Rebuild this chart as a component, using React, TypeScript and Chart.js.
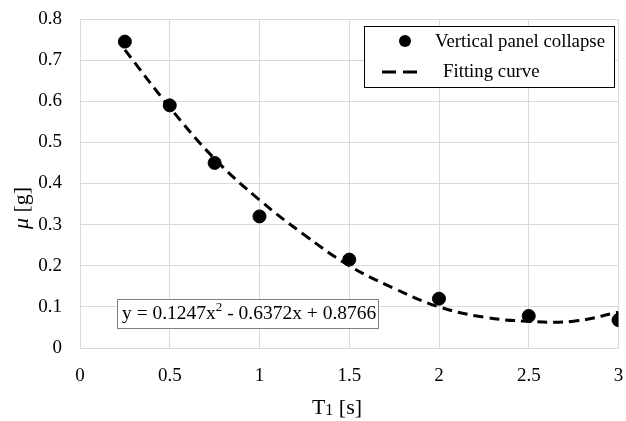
import React, { useEffect, useRef } from "react";
import { Chart, registerables } from "chart.js";

Chart.register(...registerables);

const pointX = [0.25, 0.5, 0.75, 1.0, 1.5, 2.0, 2.5, 3.0];
const pointY = [0.745, 0.59, 0.45, 0.32, 0.215, 0.12, 0.078, 0.068];

const curveX = [0.25, 0.5, 0.75, 1.0, 1.25, 1.5, 1.75, 2.0, 2.25, 2.5, 2.75, 3.0];
const curveY = [0.725, 0.585, 0.46, 0.36, 0.275, 0.2, 0.145, 0.1, 0.075, 0.065, 0.065, 0.087];

const xTicks = ["0", "0.5", "1", "1.5", "2", "2.5", "3"];
const yTicks = ["0", "0.1", "0.2", "0.3", "0.4", "0.5", "0.6", "0.7", "0.8"];

const seriesNames = ["Vertical panel collapse", "Fitting curve"];
const equation = ["y = 0.1247x", "2", " - 0.6372x + 0.8766"];

const FONT = "'Liberation Serif', 'Times New Roman', serif";

const overlay = {
  id: "overlay",
  afterDraw(chart: any) {
    const ctx = chart.ctx;
    ctx.save();
    // Y title
    ctx.save();
    ctx.translate(28, 208);
    ctx.rotate(-Math.PI / 2);
    ctx.fillStyle = "#000";
    ctx.textBaseline = "alphabetic";
    ctx.font = `italic 22px ${FONT}`;
    const mu = "μ";
    const muW = ctx.measureText(mu).width;
    ctx.font = `22px ${FONT}`;
    const rest = " [g]";
    const restW = ctx.measureText(rest).width;
    const total = muW + restW;
    ctx.font = `italic 22px ${FONT}`;
    ctx.fillText(mu, -total / 2, 0);
    ctx.font = `22px ${FONT}`;
    ctx.fillText(rest, -total / 2 + muW, 0);
    ctx.restore();

    // X title
    ctx.fillStyle = "#000";
    ctx.textBaseline = "alphabetic";
    ctx.font = `22px ${FONT}`;
    const tW = ctx.measureText("T").width;
    ctx.font = `16px ${FONT}`;
    const sW = ctx.measureText("1").width;
    ctx.font = `22px ${FONT}`;
    const rW = ctx.measureText(" [s]").width;
    const tot = tW + sW + rW;
    const x0 = 337 - tot / 2;
    const by = 414;
    ctx.fillText("T", x0, by);
    ctx.font = `16px ${FONT}`;
    ctx.fillText("1", x0 + tW, by + 1);
    ctx.font = `22px ${FONT}`;
    ctx.fillText(" [s]", x0 + tW + sW, by);

    // Equation box
    ctx.fillStyle = "#fff";
    ctx.fillRect(117, 299, 261, 29);
    ctx.strokeStyle = "#7f7f7f";
    ctx.lineWidth = 1;
    ctx.strokeRect(117.5, 299.5, 261, 29);
    ctx.fillStyle = "#000";
    ctx.font = `19.5px ${FONT}`;
    let ex = 122;
    const ey = 319;
    ctx.fillText(equation[0], ex, ey);
    ex += ctx.measureText(equation[0]).width;
    ctx.font = `13px ${FONT}`;
    ctx.fillText(equation[1], ex, ey - 8);
    ex += ctx.measureText(equation[1]).width;
    ctx.font = `19.5px ${FONT}`;
    ctx.fillText(equation[2], ex, ey);

    // Legend
    ctx.fillStyle = "#fff";
    ctx.fillRect(364, 26, 250, 61);
    ctx.strokeStyle = "#000";
    ctx.strokeRect(364.5, 26.5, 250, 61);
    ctx.fillStyle = "#000";
    ctx.beginPath();
    ctx.arc(405, 41, 6, 0, Math.PI * 2);
    ctx.fill();
    ctx.font = `18.8px ${FONT}`;
    ctx.textBaseline = "alphabetic";
    ctx.fillText(seriesNames[0], 435, 47);
    ctx.strokeStyle = "#000";
    ctx.lineWidth = 3;
    ctx.setLineDash([14, 7]);
    ctx.beginPath();
    ctx.moveTo(382, 72);
    ctx.lineTo(417, 72);
    ctx.stroke();
    ctx.setLineDash([]);
    ctx.fillText(seriesNames[1], 443, 77);
    ctx.restore();
  },
};

export default function App() {
  const ref = useRef<HTMLCanvasElement>(null);
  useEffect(() => {
    document.body.style.margin = "0";
    const canvas = ref.current!;
    const chart = new Chart(canvas, {
      type: "scatter",
      data: {
        datasets: [
          {
            label: seriesNames[1],
            data: curveX.map((x, i) => ({ x, y: curveY[i] })),
            showLine: true,
            borderColor: "#000",
            borderWidth: 3,
            borderDash: [10, 6],
            pointRadius: 0,
            tension: 0.4,
            fill: false,
          },
          {
            label: seriesNames[0],
            data: pointX.map((x, i) => ({ x, y: pointY[i] })),
            backgroundColor: "#000",
            borderColor: "#000",
            pointRadius: 6.5,
            pointHoverRadius: 6.5,
          },
        ],
      },
      options: {
        responsive: false,
        animation: false,
        devicePixelRatio: 1,
        layout: { padding: { top: 19, right: 6, left: 0, bottom: 0 } },
        plugins: { legend: { display: false }, tooltip: { enabled: false } },
        scales: {
          x: {
            type: "linear",
            min: 0,
            max: 3,
            afterFit: (s: any) => {
              s.height = 73;
              s.paddingLeft = 0;
              s.paddingRight = 0;
            },
            afterBuildTicks: (s: any) => {
              s.ticks = xTicks.map((t) => ({ value: parseFloat(t) }));
            },
            ticks: {
              callback: (v: any) => xTicks.find((t) => parseFloat(t) === v) ?? "",
              color: "#000",
              font: { family: FONT, size: 19 },
              padding: 17,
              maxRotation: 0,
              autoSkip: false,
            },
            grid: { color: "#d9d9d9", drawTicks: false },
            border: { color: "#d9d9d9" },
          },
          y: {
            type: "linear",
            min: 0,
            max: 0.8,
            afterFit: (s: any) => {
              s.width = 80;
              s.paddingTop = 0;
              s.paddingBottom = 0;
            },
            afterBuildTicks: (s: any) => {
              s.ticks = yTicks.map((t) => ({ value: parseFloat(t) }));
            },
            ticks: {
              callback: (v: any) => yTicks.find((t) => Math.abs(parseFloat(t) - v) < 1e-9) ?? "",
              color: "#000",
              font: { family: FONT, size: 19 },
              padding: 18,
              autoSkip: false,
            },
            grid: { color: "#d9d9d9", drawTicks: false },
            border: { color: "#d9d9d9" },
          },
        },
      },
      plugins: [overlay],
    });
    return () => chart.destroy();
  }, []);
  return (
    <div style={{ width: 626, height: 421 }}>
      <canvas ref={ref} width={626} height={421} />
    </div>
  );
}
